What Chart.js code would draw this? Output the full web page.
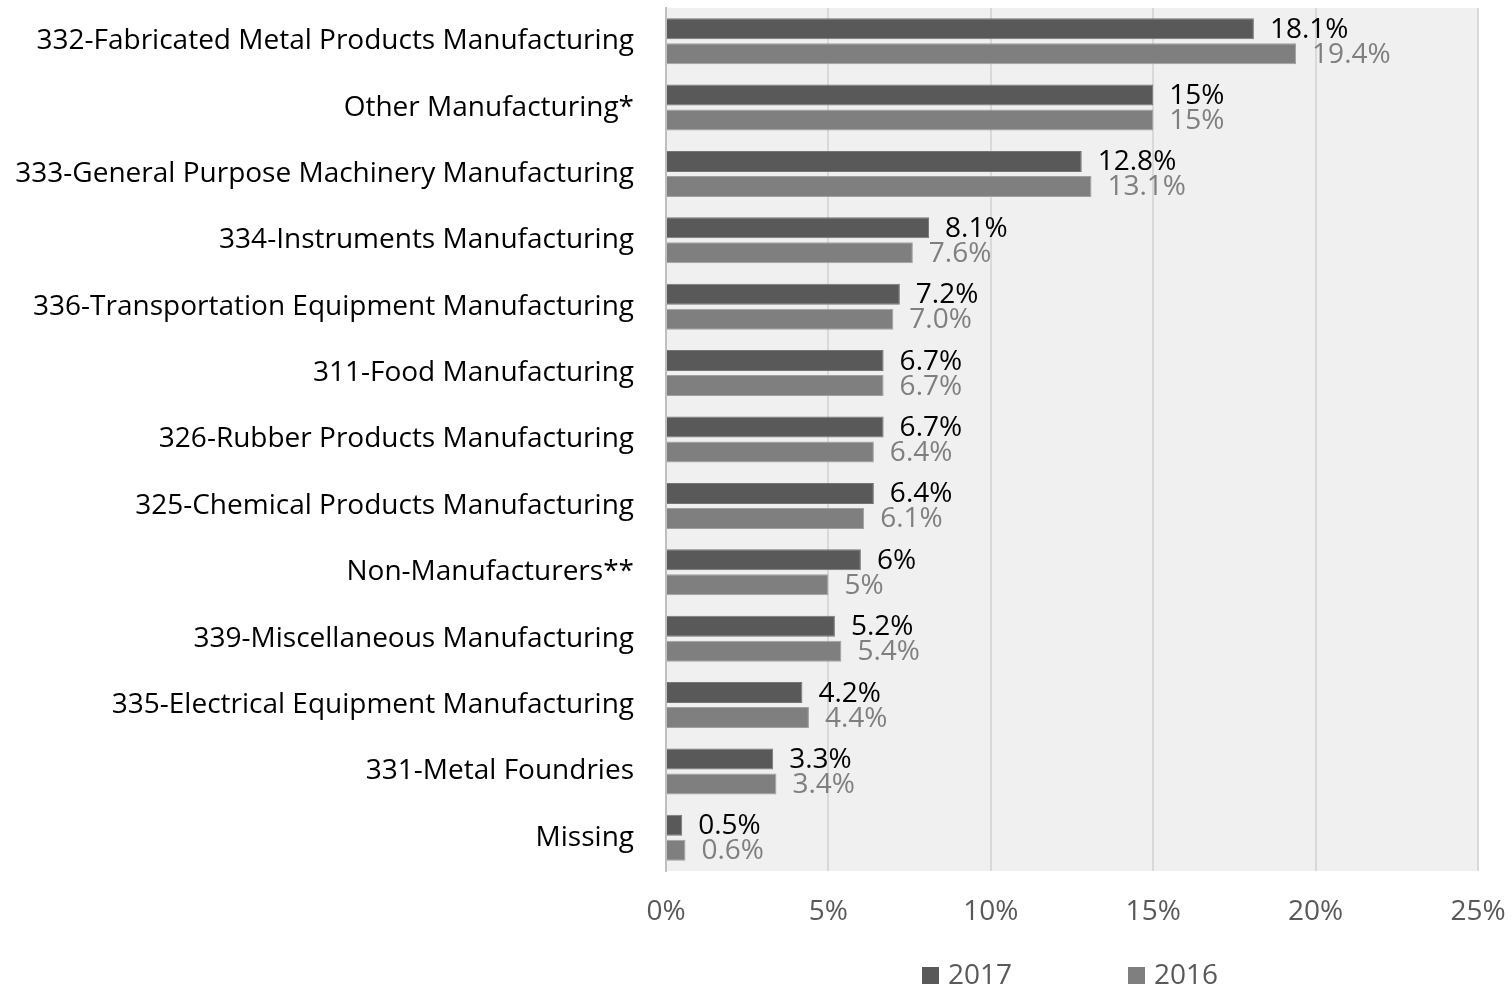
<!DOCTYPE html>
<html>
<head>
<meta charset="utf-8">
<script src="https://cdn.jsdelivr.net/npm/chart.js@4.4.1/dist/chart.umd.min.js"></script>
<style>
  html, body { margin: 0; padding: 0; background: #ffffff; }
  #wrap { width: 1512px; height: 989px; position: relative; }
</style>
</head>
<body>
<div id="wrap"><canvas id="grafico"></canvas></div>
<script>
// --- DADOS ---
const categorias = [
  '332-Fabricated Metal Products Manufacturing',
  'Other Manufacturing*',
  '333-General Purpose Machinery Manufacturing',
  '334-Instruments Manufacturing',
  '336-Transportation Equipment Manufacturing',
  '311-Food Manufacturing',
  '326-Rubber Products Manufacturing',
  '325-Chemical Products Manufacturing',
  'Non-Manufacturers**',
  '339-Miscellaneous Manufacturing',
  '335-Electrical Equipment Manufacturing',
  '331-Metal Foundries',
  'Missing'
];
const valores2017 = [18.1, 15, 12.8, 8.1, 7.2, 6.7, 6.7, 6.4, 6, 5.2, 4.2, 3.3, 0.5];
const valores2016 = [19.4, 15, 13.1, 7.6, 7.0, 6.7, 6.4, 6.1, 5, 5.4, 4.4, 3.4, 0.6];
const rotulos2017 = ['18.1%', '15%', '12.8%', '8.1%', '7.2%', '6.7%', '6.7%', '6.4%', '6%', '5.2%', '4.2%', '3.3%', '0.5%'];
const rotulos2016 = ['19.4%', '15%', '13.1%', '7.6%', '7.0%', '6.7%', '6.4%', '6.1%', '5%', '5.4%', '4.4%', '3.4%', '0.6%'];
const ticksX = [0, 5, 10, 15, 20, 25];

const FONTE = '"Open Sans", "Noto Sans", sans-serif';
const TAM = 28;

// fundo cinza da área do gráfico
const fundoPlugin = {
  id: 'fundo',
  beforeDraw(chart) {
    const { ctx, chartArea: a } = chart;
    ctx.save();
    ctx.fillStyle = '#f0f0f0';
    ctx.fillRect(a.left, a.top, a.right - a.left, a.bottom - a.top);
    ctx.restore();
  }
};

// rótulos de valor à direita das barras
const rotulosPlugin = {
  id: 'rotulos',
  afterDatasetsDraw(chart) {
    const ctx = chart.ctx;
    ctx.save();
    ctx.font = TAM + 'px ' + FONTE;
    ctx.textBaseline = 'middle';
    ctx.textAlign = 'left';
    chart.data.datasets.forEach((ds, i) => {
      const meta = chart.getDatasetMeta(i);
      ctx.fillStyle = ds.corRotulo;
      meta.data.forEach((bar, j) => {
        ctx.fillText(ds.rotulos[j], bar.x + 16, bar.y + 1);
      });
    });
    ctx.restore();
  }
};

// legenda manual embaixo
const legendaPlugin = {
  id: 'legenda',
  afterDraw(chart) {
    const ctx = chart.ctx;
    const a = chart.chartArea;
    const cx = (a.left + a.right) / 2;
    const y = 975;
    const pos = [cx - 150, cx + 56];
    ctx.save();
    ctx.font = TAM + 'px ' + FONTE;
    ctx.textBaseline = 'middle';
    ctx.textAlign = 'left';
    chart.data.datasets.forEach((ds, i) => {
      ctx.fillStyle = ds.backgroundColor;
      ctx.fillRect(pos[i], y - 8, 17, 17);
      ctx.fillStyle = '#595959';
      ctx.fillText(ds.label, pos[i] + 26, y + 1);
    });
    ctx.restore();
  }
};

// zera o espaço extra que a escala reserva para os rótulos das pontas
const semPadding = (axis) => {
  axis.paddingTop = 0; axis.paddingBottom = 0;
  axis.paddingLeft = 0; axis.paddingRight = 0;
};

const grafico = new Chart(document.getElementById('grafico').getContext('2d'), {
  type: 'bar',
  data: {
    labels: categorias,
    datasets: [
      { label: '2017', data: valores2017, rotulos: rotulos2017, corRotulo: '#000000',
        backgroundColor: '#595959', borderColor: '#757575', borderWidth: 1 },
      { label: '2016', data: valores2016, rotulos: rotulos2016, corRotulo: '#7f7f7f',
        backgroundColor: '#7f7f7f', borderColor: '#a0a0a0', borderWidth: 1 }
    ]
  },
  options: {
    indexAxis: 'y',
    responsive: true,
    maintainAspectRatio: false,
    animation: false,
    categoryPercentage: 0.753,
    barPercentage: 0.84,
    layout: { autoPadding: false, padding: { top: 8, right: 34, bottom: 48, left: 0 } },
    plugins: { legend: { display: false }, tooltip: { enabled: false } },
    scales: {
      x: {
        min: 0, max: 25,
        afterBuildTicks: (axis) => { axis.ticks = ticksX.map(v => ({ value: v })); },
        afterFit: (axis) => { axis.height = 70; semPadding(axis); },
        grid: { color: '#d9d9d9', lineWidth: 2, drawTicks: false },
        border: { display: false },
        ticks: {
          padding: 24,
          color: '#595959',
          font: { family: FONTE, size: TAM },
          callback: (v) => v + '%'
        }
      },
      y: {
        afterFit: (axis) => { axis.width = 666; semPadding(axis); },
        grid: { display: false, drawTicks: false },
        border: { display: true, color: '#bfbfbf', width: 2 },
        ticks: {
          padding: 32,
          color: '#000000',
          font: { family: FONTE, size: TAM }
        }
      }
    }
  },
  plugins: [fundoPlugin, rotulosPlugin, legendaPlugin]
});
</script>
</body>
</html>
